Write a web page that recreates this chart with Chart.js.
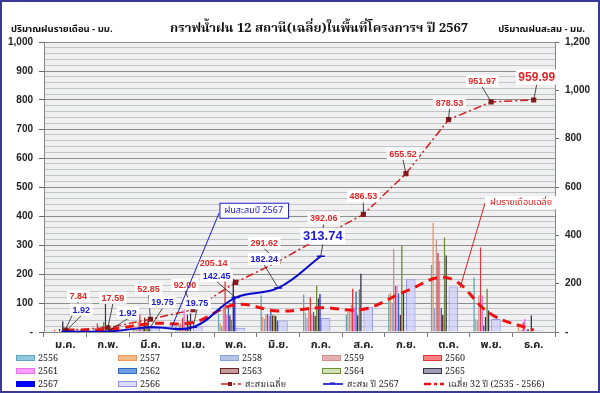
<!DOCTYPE html>
<html><head><meta charset="utf-8">
<script src="https://cdn.jsdelivr.net/npm/chart.js@4.4.1/dist/chart.umd.min.js"></script>
<style>
html,body{margin:0;padding:0;background:#fff;}
#wrap{position:relative;width:600px;height:393px;overflow:hidden;background:#fff;}
#c{position:absolute;left:0;top:0;}
#frame{position:absolute;left:0;top:0;width:600px;height:393px;box-sizing:border-box;border:2px solid #3a3a96;pointer-events:none;}
#legend{position:absolute;left:0;top:0;width:600px;height:393px;pointer-events:none;font-size:9px;color:#222;}
.li{position:absolute;display:flex;align-items:center;height:12px;white-space:nowrap;}
.li span.t{margin-left:3px;}
</style>
</head><body>
<div id="wrap">
<canvas id="c" width="600" height="393"></canvas>
<div id="legend"></div>
<div id="frame"></div>
</div>
<script>
// ---------------- DATA ----------------
const months = ['ม.ค.','ก.พ.','มี.ค.','เม.ย.','พ.ค.','มิ.ย.','ก.ค.','ส.ค.','ก.ย.','ต.ค.','พ.ย.','ธ.ค.'];
const r2556 = [2, 5, 10, 20, 65, 127, 130, 61, 130, 232, 189, 2];
const r2557 = [0, 2, 20, 10, 30, 52, 67, 69, 136, 378, 45, 27];
const r2558 = [5, 10, 15, 25, 20, 45, 50, 70, 100, 83, 40, 5];
const r2559 = [3, 15, 35, 30, 100, 61, 80, 95, 287, 318, 127, 8];
const r2560 = [8, 30, 61, 50, 196, 62, 120, 150, 159, 272, 292, 34];
const r2561 = [0, 5, 25, 80, 60, 55, 60, 85, 159, 246, 127, 46];
const r2562 = [2, 5, 20, 15, 92, 69, 70, 139, 134, 83, 23, 5];
const r2563 = [10, 20, 50, 60, 58, 58, 55, 58, 59, 59, 52, 10];
const r2564 = [3, 35, 30, 40, 43, 58, 160, 147, 298, 327, 150, 5];
const r2565 = [37, 98, 40, 65, 184, 55, 116, 202, 139, 265, 75, 58];
const r2566 = [5, 8, 15, 20, 15, 40, 48, 87, 182, 157, 45, 5];
const r2567 = [1.92, 0, 17.83, 0, 122.70, 39.79, 131.50, null, null, null, null, null];
const cumAvg = [7.84, 17.59, 52.85, 92.00, 205.14, 291.62, 392.06, 486.53, 655.52, 878.53, 951.97, 959.99];
const cum2567 = [1.92, 1.92, 19.75, 19.75, 142.45, 182.24, 313.74, null, null, null, null, null];
const avg32 = [7.84, 9.75, 35.26, 39.15, 113.14, 86.48, 100.44, 94.47, 168.99, 223.01, 73.44, 8.02];
const leftMax = 1000, leftMinorStep = 20, leftMajorStep = 100;
const rightMax = 1200, rightStep = 200;

// ---------------- STYLE ----------------
const THAI = "'Noto Sans Thai','Noto Serif Thai','Loma','Garuda','Norasi','Kinnari','Tlwg Typo','Sarabun','Tahoma','DejaVu Sans',sans-serif";
const SERIF = "'Noto Serif Thai','Norasi','Kinnari','Liberation Serif','DejaVu Serif',serif";
const fmt = v => v === 0 ? '-' : v.toLocaleString('en-US');

function barDs(label, data, bg, bd, bw) {
  return {type:'bar', label, data, backgroundColor:bg, borderColor:bd, borderWidth:bw, xAxisID:'x', yAxisID:'y',
          categoryPercentage:0.84, barPercentage:1.0, order:2, legendType:'bar'};
}
const datasets = [
  barDs('2556', r2556, '#8fcbdc', '#5fa6bc', 0.8),
  barDs('2557', r2557, '#f9b987', '#e89860', 0.8),
  barDs('2558', r2558, '#b3c4e6', '#8aa2d2', 0.8),
  barDs('2559', r2559, '#e4b1b0', '#cc8f8e', 0.8),
  barDs('2560', r2560, '#ff8080', '#dd3b3b', 1),
  barDs('2561', r2561, '#ff9cff', '#e870e8', 0.8),
  barDs('2562', r2562, '#6c9ee6', '#3366bb', 1),
  barDs('2563', r2563, '#c49a9a', '#652525', 1),
  barDs('2564', r2564, '#d3e2b6', '#6f8c36', 1),
  barDs('2565', r2565, '#a39cb5', '#3a3452', 1),
  barDs('2567', r2567, '#0000ff', '#0000dd', 0.5),
  {type:'bar', label:'2566', data:r2566, backgroundColor:'rgba(196,196,255,0.6)', borderColor:'rgba(140,140,230,0.9)', borderWidth:1,
   xAxisID:'x2', yAxisID:'y', categoryPercentage:0.45, barPercentage:1, order:1, legendType:'bar'},
  {type:'line', label:'สะสมเฉลี่ย', data:cumAvg, xAxisID:'x', yAxisID:'y1', borderColor:'#d42020', borderWidth:1.5,
   borderDash:[8,3,2,3], pointStyle:'rect', pointRadius:2.6, pointBackgroundColor:'#8b1a1a', pointBorderColor:'#8b1a1a',
   tension:0, fill:false, order:0.2, legendType:'cumavg'},
  {type:'line', label:'สะสม ปี 2567', data:cum2567, xAxisID:'x', yAxisID:'y1', borderColor:'#0a0acc', borderWidth:2,
   pointStyle:'line', pointRadius:4, pointBorderWidth:1.5, pointBorderColor:'#0a0acc', tension:0.4,
   fill:false, order:0.1, legendType:'cum'},
  {type:'line', label:'เฉลี่ย 32 ปี (2535 - 2566)', data:avg32, xAxisID:'x', yAxisID:'y1', borderColor:'#ee1111', borderWidth:3,
   borderDash:[9,6], pointRadius:0, tension:0.4, fill:false, order:0.3, legendType:'avg'}
];

// value labels
const redOffsets = [[13,-34],[5,-30],[-2,-30],[-8,-25],[-22,-19],[-14,-19],[3,-19],[0,-18],[-3,-20],[1,-17],[-9,-21],[3,-23]];
const blueOffsets = [[16,-22],[20,-19],[12,-25],[4,-24],[-19,-22],[-14,-29],[2,-20]];
const labelSpecs = [
  {ds:12, values:cumAvg, offsets:redOffsets, color:'#e02828', size:9, bigIndex:11, bigSize:12},
  {ds:13, values:cum2567, offsets:blueOffsets, color:'#1a1acc', size:9, bigIndex:6, bigSize:13}
];

const bgPlugin = {
  id:'bg',
  beforeDraw(chart){
    const {ctx, chartArea:a} = chart;
    ctx.save(); ctx.fillStyle = '#f0f0f0'; ctx.fillRect(a.left, a.top, a.right-a.left, a.bottom-a.top); ctx.restore();
  }
};

const labelPlugin = {
  id:'vlabels',
  afterDatasetsDraw(chart){
    const ctx = chart.ctx;
    const boxes = [];
    labelSpecs.forEach(spec => {
      const meta = chart.getDatasetMeta(spec.ds);
      spec.offsets.forEach((off, i) => {
        const v = spec.values[i]; const el = meta.data[i];
        if (v == null || !el) return;
        const fs = i === spec.bigIndex ? spec.bigSize : spec.size;
        ctx.font = `bold ${fs}px 'Liberation Sans','DejaVu Sans',sans-serif`;
        const text = v.toFixed(2);
        const w = ctx.measureText(text).width + 5, h = fs + 3;
        const tx = el.x + off[0], ty = el.y + off[1];
        boxes.push({tx, ty, w, h, px:el.x, py:el.y, text, fs, color:spec.color});
      });
    });
    ctx.save();
    ctx.strokeStyle = '#222'; ctx.lineWidth = 0.8;
    boxes.forEach(b => { ctx.beginPath(); ctx.moveTo(b.tx, b.ty + b.h/2); ctx.lineTo(b.px, b.py); ctx.stroke(); });
    boxes.forEach(b => {
      ctx.fillStyle = '#fff'; ctx.fillRect(b.tx - b.w/2, b.ty - b.h/2, b.w, b.h);
      ctx.font = `bold ${b.fs}px 'Liberation Sans','DejaVu Sans',sans-serif`;
      ctx.fillStyle = b.color; ctx.textAlign = 'center'; ctx.textBaseline = 'middle';
      ctx.fillText(b.text, b.tx, b.ty + 0.5);
    });
    ctx.restore();
  },
  afterDraw(chart){
    const ctx = chart.ctx; const x = chart.scales.x, y1 = chart.scales.y1;
    ctx.save();
    // top texts
    ctx.fillStyle = '#111'; ctx.textBaseline = 'middle';
    ctx.font = `bold 13px ${SERIF}`; ctx.textAlign = 'center';
    ctx.fillText('กราฟน้ำฝน 12 สถานี(เฉลี่ย)ในพื้นที่โครงการฯ ปี 2567', 319, 30);
    ctx.font = `bold 9.5px ${THAI}`; ctx.textAlign = 'left';
    ctx.fillText('ปริมาณฝนรายเดือน - มม.', 11, 30);
    ctx.textAlign = 'right';
    ctx.fillText('ปริมาณฝนสะสม - มม.', 585, 30);

    // callout 1: cumulative 2567
    const ax1 = x.getPixelForValue(2.5), ay1 = y1.getPixelForValue(cum2567[2]);
    const b1x = ax1 + 82, b1y = ay1 - 117;
    ctx.font = `9px ${THAI}`;
    let t1 = 'ฝนสะสมปี 2567'; let w1 = ctx.measureText(t1).width + 10, h1 = 15;
    ctx.strokeStyle = '#1a1acc'; ctx.lineWidth = 1;
    ctx.beginPath(); ctx.moveTo(b1x - w1/2, b1y + 2); ctx.lineTo(ax1, ay1); ctx.stroke();
    ctx.fillStyle = '#fff'; ctx.fillRect(b1x - w1/2, b1y - h1/2, w1, h1);
    ctx.strokeRect(b1x - w1/2 + 0.5, b1y - h1/2 + 0.5, w1, h1);
    ctx.fillStyle = '#1a1acc'; ctx.textAlign = 'center'; ctx.fillText(t1, b1x, b1y + 0.5);

    // callout 2: monthly average
    const ax2 = x.getPixelForValue(9.27), ay2 = y1.getPixelForValue(avg32[9] * 0.73 + avg32[10] * 0.27);
    const b2x = ax2 + 61, b2y = ay2 - 85;
    let t2 = 'ฝนรายเดือนเฉลี่ย'; let w2 = ctx.measureText(t2).width + 10, h2 = 13;
    ctx.strokeStyle = '#e02020'; ctx.lineWidth = 1;
    ctx.beginPath(); ctx.moveTo(b2x - w2/2, b2y); ctx.lineTo(ax2, ay2); ctx.stroke();
    ctx.fillStyle = '#fff'; ctx.fillRect(b2x - w2/2, b2y - h2/2, w2, h2);
    ctx.fillStyle = '#e02020'; ctx.textAlign = 'center'; ctx.fillText(t2, b2x, b2y + 0.5);
    ctx.restore();
  }
};

const tickFont = {family:"'Liberation Sans','DejaVu Sans',sans-serif", size:10, weight:'bold'};
const chart = new Chart(document.getElementById('c'), {
  data:{labels:months, datasets},
  options:{
    responsive:false, animation:false, devicePixelRatio:1,
    layout:{padding:{top:42, left:0, right:0, bottom:0}},
    plugins:{legend:{display:false}, tooltip:{enabled:false}},
    scales:{
      x:{type:'category', offset:true, position:'bottom',
         grid:{offset:true, drawOnChartArea:false, tickLength:5, color:'#777'},
         border:{color:'#888'},
         ticks:{font:{family:THAI, size:11, weight:'bold'}, color:'#222', padding:2, maxRotation:0, autoSkip:false},
         afterFit(s){ s.height = 61; }},
      x2:{type:'category', offset:true, display:false, labels:months},
      y:{type:'linear', position:'left', min:0, max:leftMax,
         ticks:{stepSize:leftMinorStep, autoSkip:false, font:tickFont, color:'#222', padding:6,
                callback:v => v % leftMajorStep === 0 ? fmt(v) : ''},
         grid:{color:c => (c.tick && c.tick.value % leftMajorStep === 0) ? '#8e8e8e' : '#c2c5cc',
               tickColor:c => (c.tick && c.tick.value % leftMajorStep === 0) ? '#666' : 'rgba(0,0,0,0)',
               tickLength:5, lineWidth:1},
         border:{color:'#888'},
         afterFit(s){ s.width = 44; }},
      y1:{type:'linear', position:'right', min:0, max:rightMax,
          ticks:{stepSize:rightStep, autoSkip:false, font:tickFont, color:'#222', padding:6, callback:v => fmt(v)},
          grid:{drawOnChartArea:false, tickLength:4, tickColor:'#666'},
          border:{color:'#888'},
          afterFit(s){ s.width = 45; }}
    }
  },
  plugins:[bgPlugin, labelPlugin]
});

// ---------------- HTML LEGEND ----------------
(function(){
  const lg = document.getElementById('legend');
  lg.style.fontFamily = SERIF;
  const colX = [16, 118, 220, 322, 423], rowY = [352, 365, 378];
  chart.data.datasets.forEach((ds, i) => {
    const d = document.createElement('div'); d.className = 'li';
    d.style.left = colX[i % 5] + 'px'; d.style.top = rowY[Math.floor(i / 5)] + 'px';
    let sw;
    if (ds.legendType === 'bar') {
      sw = `<span style="display:inline-block;width:17px;height:4px;background:${ds.backgroundColor};border:1px solid ${ds.borderColor};"></span>`;
    } else if (ds.legendType === 'cumavg') {
      sw = `<svg width="22" height="8"><line x1="1" y1="4" x2="21" y2="4" stroke="${ds.borderColor}" stroke-width="1.5" stroke-dasharray="9,3,2,3"/><rect x="8" y="2" width="4" height="4" fill="${ds.pointBackgroundColor}"/></svg>`;
    } else if (ds.legendType === 'cum') {
      sw = `<svg width="22" height="8"><line x1="1" y1="4" x2="21" y2="4" stroke="${ds.borderColor}" stroke-width="1.6"/><line x1="8" y1="3" x2="13" y2="3" stroke="${ds.borderColor}" stroke-width="1"/></svg>`;
    } else {
      sw = `<svg width="22" height="8"><line x1="1" y1="4" x2="21" y2="4" stroke="${ds.borderColor}" stroke-width="2.5" stroke-dasharray="7,3,3,3"/></svg>`;
    }
    d.innerHTML = sw + `<span class="t">${ds.label}</span>`;
    lg.appendChild(d);
  });
})();
</script>
</body></html>
